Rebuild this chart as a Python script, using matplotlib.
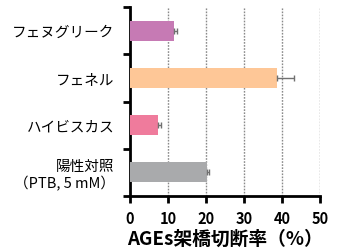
import matplotlib
matplotlib.use("Agg")
import matplotlib.pyplot as plt

plt.rcParams["font.family"] = ["Noto Sans CJK JP", "DejaVu Sans"]

categories = ["フェヌグリーク", "フェネル", "ハイビスカス", "陽性対照\n（PTB, 5 mM）"]
values = [11.5, 38.8, 7.4, 20.3]
errors = [0.8, 4.3, 0.7, 0.6]
colors = ["#C67AB4", "#FEC797", "#EF7B9C", "#A9AAAC"]
xticks = [0, 10, 20, 30, 40, 50]

fig = plt.figure(figsize=(3.43, 2.53), dpi=100)
ax = fig.add_axes([130 / 343, 56 / 253, 190 / 343, 189 / 253])

pos = [0.5, 1.5, 2.5, 3.5]
ax.barh(pos, values, height=0.42, color=colors, zorder=3,
        xerr=[[0] * len(errors), errors],
        error_kw=dict(ecolor="#707070", elinewidth=1.0,
                      capsize=2, capthick=1.0, zorder=4))
ax.set_ylim(4, 0)
ax.set_xlim(0, 50)

ax.set_yticks([0, 1, 2, 3, 4])
ax.set_yticklabels([])
ax.set_yticks(pos, minor=True)
ax.set_yticklabels(categories, minor=True, fontsize=10.5, linespacing=1.15,
                   multialignment="right")
ax.tick_params(axis="y", which="minor", length=0, pad=11)
ax.tick_params(axis="y", which="major", length=5, width=2, direction="out")

ax.set_xticks(xticks)
ax.set_xticklabels([str(t) for t in xticks], fontsize=10.5, fontweight="bold")
ax.tick_params(axis="x", length=5, width=2, direction="out", pad=5)

for x in xticks[1:]:
    ax.axvline(x, color="#8a8a8a", linestyle=(0, (1.2, 1.0)), linewidth=1.0, zorder=1)

for side in ["top", "right"]:
    ax.spines[side].set_visible(False)
for side in ["left", "bottom"]:
    ax.spines[side].set_linewidth(2)

ax.set_xlabel("AGEs架橋切断率（%）", fontsize=13.5, fontweight="bold", labelpad=2)

fig.savefig("out.png", dpi=100)
